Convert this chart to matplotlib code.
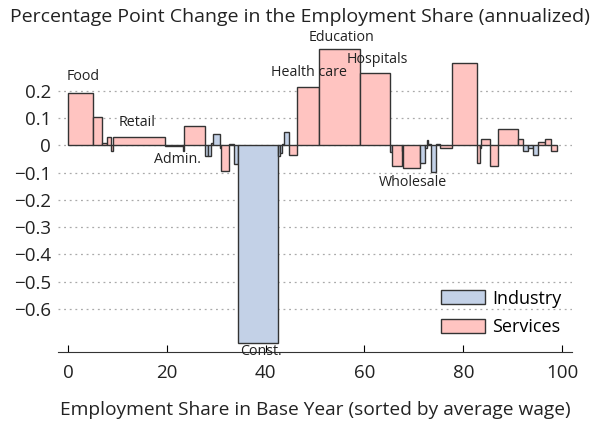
import numpy as np
import matplotlib
matplotlib.use("Agg")
import matplotlib.pyplot as plt
from matplotlib.patches import Patch

# employment share of each sector (width) and annualized change (height), sorted by wage
anchos = [5.0, 1.8, 1.0, 1.0, 0.3, 10.5, 3.6, 0.2, 4.4, 0.5, 0.6, 0.5, 1.3, 0.3, 1.5, 1.0,
          1.0, 7.9, 0.5, 0.5, 0.3, 1.1, 1.6, 4.3, 8.4, 6.1, 0.4, 1.9, 0.2, 3.5, 1.0, 0.4,
          0.2, 0.6, 1.1, 0.7, 2.5, 5.0, 0.6, 0.3, 1.8, 1.6, 4.0, 1.0, 1.0, 1.0, 1.2, 1.3,
          1.3, 1.1]
cambios = [0.19, 0.105, 0.007, 0.03, -0.02, 0.03, -0.004, -0.02, 0.071, -0.04, -0.04, 0.007,
           0.041, -0.011, -0.093, 0.005, -0.07, -0.723, -0.04, -0.03, 0.003, 0.05, -0.036,
           0.212, 0.352, 0.266, -0.025, -0.078, -0.02, -0.082, -0.066, -0.01, 0.02, 0.005,
           -0.097, 0.003, -0.011, 0.30, -0.064, -0.01, 0.023, -0.075, 0.06, 0.022, -0.021,
           -0.012, -0.037, 0.011, 0.022, -0.023]
tipos = ['S', 'S', 'S', 'S', 'S', 'S', 'S', 'S', 'S', 'I', 'I', 'S', 'I', 'I', 'S', 'S',
         'I', 'I', 'I', 'I', 'I', 'I', 'S', 'S', 'S', 'S', 'I', 'S', 'I', 'S', 'I', 'I',
         'S', 'S', 'I', 'S', 'S', 'S', 'S', 'I', 'S', 'S', 'S', 'S', 'I', 'I', 'I', 'S',
         'S', 'S']

etiquetas = ['Food', 'Retail', 'Admin.', 'Health care', 'Education', 'Hospitals', 'Wholesale', 'Const.']
etiq_x = [3.0, 13.9, 22.2, 48.8, 55.4, 62.5, 69.8, 39.1]
etiq_y = [0.25, 0.082, -0.054, 0.265, 0.393, 0.312, -0.138, -0.757]

yticks = [0.2, 0.1, 0, -0.1, -0.2, -0.3, -0.4, -0.5, -0.6]
xticks = [0, 20, 40, 60, 80, 100]

color_ind = '#c3d1e7'
color_ser = '#ffc4c1'

plt.rcParams['font.family'] = ['Open Sans', 'DejaVu Sans']

fig = plt.figure(figsize=(5.99, 4.23), dpi=100)
ax = fig.add_axes([0.097, 0.168, 0.858, 0.747])

inicio = np.concatenate([[0], np.cumsum(anchos)[:-1]])
colores = [color_ind if t == 'I' else color_ser for t in tipos]
ax.bar(inicio, cambios, width=anchos, align='edge', color=colores,
       edgecolor='#333333', linewidth=1.0, zorder=3)

for txt, x, y in zip(etiquetas, etiq_x, etiq_y):
    ax.text(x, y, txt, ha='center', va='center', fontsize=10.3, color='#222222',
            zorder=5, clip_on=False)

ax.set_xlim(-2, 102)
ax.set_ylim(-0.757, 0.40)
ax.set_yticks(yticks)
ax.set_yticklabels(['0.2', '0.1', '0', '\u22120.1', '\u22120.2', '\u22120.3', '\u22120.4',
                    '\u22120.5', '\u22120.6'])
ax.set_xticks(xticks)
ax.tick_params(axis='y', length=0, labelsize=13.5, pad=5, labelcolor='#222222')
ax.tick_params(axis='x', direction='in', length=5, labelsize=13.5, pad=9, labelcolor='#222222')
ax.yaxis.grid(True, linestyle=(0, (1.5, 3)), color='#aaaaaa', linewidth=0.9, zorder=0)

for lado in ['left', 'right', 'top']:
    ax.spines[lado].set_visible(False)
ax.spines['bottom'].set_color('#333333')

fig.text(0.5, 1 - 17 / 423, 'Percentage Point Change in the Employment Share (annualized)',
         ha='center', va='center', fontsize=14, color='#222222')
fig.text(0.526, 1 - 410 / 423, 'Employment Share in Base Year (sorted by average wage)',
         ha='center', va='center', fontsize=13.8, color='#222222')

manijas = [Patch(facecolor=color_ind, edgecolor='#333333', label='Industry'),
           Patch(facecolor=color_ser, edgecolor='#333333', label='Services')]
ax.legend(handles=manijas, loc='lower right', bbox_to_anchor=(1.0, 0.015), frameon=False,
          fontsize=13, handlelength=2.4, handleheight=0.8, labelspacing=0.6,
          handletextpad=0.4, borderaxespad=0.2)

fig.savefig('out.png', dpi=100)
